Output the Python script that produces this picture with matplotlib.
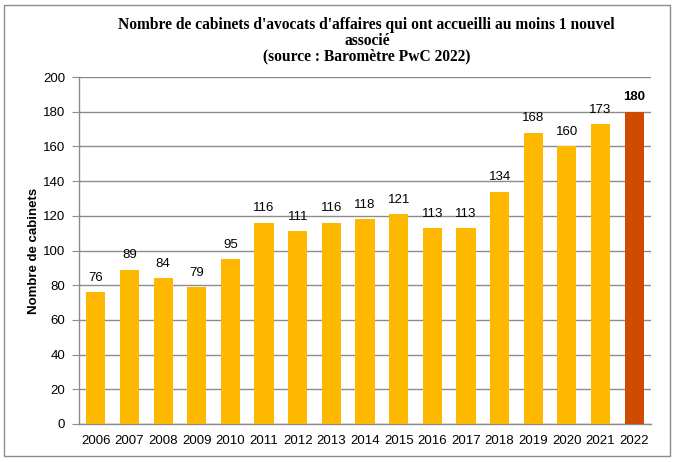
import matplotlib
matplotlib.use("Agg")
import matplotlib.pyplot as plt
from matplotlib.patches import Rectangle

years = ["2006", "2007", "2008", "2009", "2010", "2011", "2012", "2013", "2014",
         "2015", "2016", "2017", "2018", "2019", "2020", "2021", "2022"]
values = [76, 89, 84, 79, 95, 116, 111, 116, 118, 121, 113, 113, 134, 168, 160, 173, 180]
yticks = [0, 20, 40, 60, 80, 100, 120, 140, 160, 180, 200]

yellow = "#FFB800"
orange = "#D04A02"
colors = [yellow] * (len(years) - 1) + [orange]

W, H = 677, 462
fig = plt.figure(figsize=(W / 100, H / 100), dpi=100)
fig.patch.set_facecolor("white")

# outer frame
fig.add_artist(Rectangle((4 / W, 1 - 456 / H), (670 - 4) / W, (456 - 5) / H,
                         transform=fig.transFigure, fill=False,
                         edgecolor="#8c8c8c", linewidth=1.0))

ax = fig.add_axes([79 / W, 1 - 424 / H, (651 - 79) / W, (424 - 77) / H])
x = list(range(len(years)))
ax.bar(x, values, width=0.57, color=colors, zorder=3)
ax.set_xlim(-0.5, len(years) - 0.5)
ax.set_ylim(0, 200)
ax.set_yticks(yticks)
ax.set_xticks(x)
ax.set_xticklabels(years)
ax.grid(axis="y", color="#8c8c8c", linewidth=1.0, zorder=0)
for s in ["top", "right"]:
    ax.spines[s].set_visible(False)
for s in ["left", "bottom"]:
    ax.spines[s].set_color("#8c8c8c")
    ax.spines[s].set_linewidth(1.0)
ax.tick_params(axis="y", length=5, color="#8c8c8c", pad=5)
ax.tick_params(axis="x", length=0, pad=8)
for lab in ax.get_xticklabels() + ax.get_yticklabels():
    lab.set_fontfamily("Liberation Sans")
    lab.set_fontsize(9.5)

for i, v in enumerate(values):
    last = i == len(values) - 1
    ax.annotate(str(v), (i, v), xytext=(0, 6), textcoords="offset points",
                ha="center", va="bottom",
                fontsize=9.5, fontfamily="Liberation Sans",
                fontweight="bold" if last else "normal")

ax.set_ylabel("Nombre de cabinets", fontsize=9.5, fontweight="bold",
              fontfamily="Liberation Sans")
ax.yaxis.set_label_coords((40 - 79) / (651 - 79), 0.5)

title_lines = [
    ("Nombre de cabinets d'avocats d'affaires qui ont accueilli au moins 1 nouvel", 366, 25),
    ("associé", 367, 41),
    ("(source : Baromètre PwC 2022)", 367, 56),
]
for t, cx, cy in title_lines:
    fig.text(cx / W, 1 - cy / H, t, ha="center", va="center",
             fontsize=11.2, fontweight="bold", fontfamily="Liberation Serif")

fig.savefig("out.png", dpi=100)
